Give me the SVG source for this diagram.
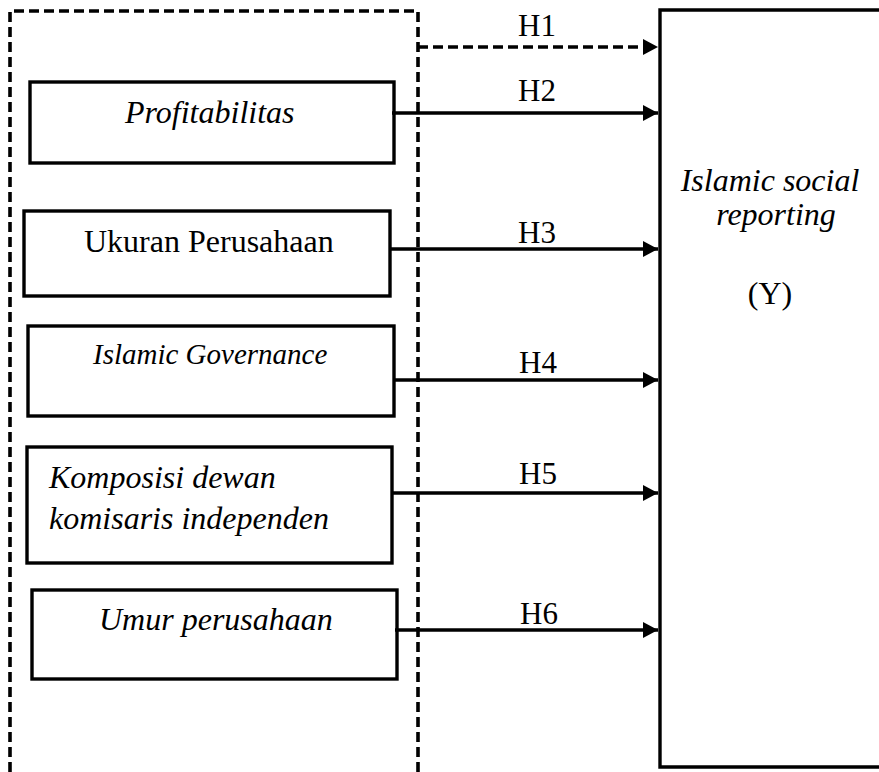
<svg xmlns="http://www.w3.org/2000/svg" width="879" height="772" viewBox="0 0 879 772">
<defs>
<style>
.box{fill:#fff;stroke:#000;stroke-width:3.4}
.dash{fill:none;stroke:#000;stroke-width:3.6;stroke-dasharray:10 5}
.conn{fill:none;stroke:#000;stroke-width:3.4}
.t{font-family:"Liberation Serif","Times New Roman",serif;font-size:32px;fill:#000}
.i{font-style:italic}
.h{font-family:"Liberation Serif","Times New Roman",serif;font-size:31px;fill:#000;text-anchor:middle}
</style>
<marker id="ah" markerUnits="userSpaceOnUse" markerWidth="18" markerHeight="18" refX="15" refY="8" orient="auto">
<path d="M0,0 L15,8 L0,16 Z" fill="#000"/>
</marker>
</defs>
<rect width="879" height="772" fill="#fff"/>
<g id="group-independent">
<path class="dash" d="M10,772 L10,11 L418,11 L418,772"/>
</g>
<g id="node-y">
<path class="box" d="M885,10 L660,10 L660,767 L885,767"/>
<text class="t i" x="770" y="191" text-anchor="middle">Islamic social</text>
<text class="t i" x="776" y="225" text-anchor="middle">reporting</text>
<text class="t" x="770" y="304" text-anchor="middle">(Y)</text>
</g>
<g id="node-profitabilitas">
<rect class="box" x="30" y="82" width="364" height="81"/>
<text class="t i" x="125" y="123">Profitabilitas</text>
</g>
<g id="node-ukuran">
<rect class="box" x="24" y="211" width="366" height="85"/>
<text class="t" x="84" y="252">Ukuran Perusahaan</text>
</g>
<g id="node-governance">
<rect class="box" x="28" y="326" width="366" height="90"/>
<text class="t i" x="93" y="364" style="font-size:29px">Islamic Governance</text>
</g>
<g id="node-komposisi">
<rect class="box" x="27" y="447" width="365" height="116"/>
<text class="t i" x="49" y="488">Komposisi dewan</text>
<text class="t i" x="49" y="529">komisaris independen</text>
</g>
<g id="node-umur">
<rect class="box" x="32" y="590" width="365" height="89"/>
<text class="t i" x="99" y="630">Umur perusahaan</text>
</g>
<g id="connectors">
<path class="dash" d="M418,47 L658,47" marker-end="url(#ah)"/>
<path class="conn" d="M392,113 L658,113" marker-end="url(#ah)"/>
<path class="conn" d="M390,249 L658,249" marker-end="url(#ah)"/>
<path class="conn" d="M394,380 L658,380" marker-end="url(#ah)"/>
<path class="conn" d="M392,493 L658,493" marker-end="url(#ah)"/>
<path class="conn" d="M395,630 L658,630" marker-end="url(#ah)"/>
<text class="h" x="537" y="36">H1</text>
<text class="h" x="537" y="101">H2</text>
<text class="h" x="537" y="243">H3</text>
<text class="h" x="538" y="373">H4</text>
<text class="h" x="538" y="484">H5</text>
<text class="h" x="539" y="624">H6</text>
</g>
</svg>
